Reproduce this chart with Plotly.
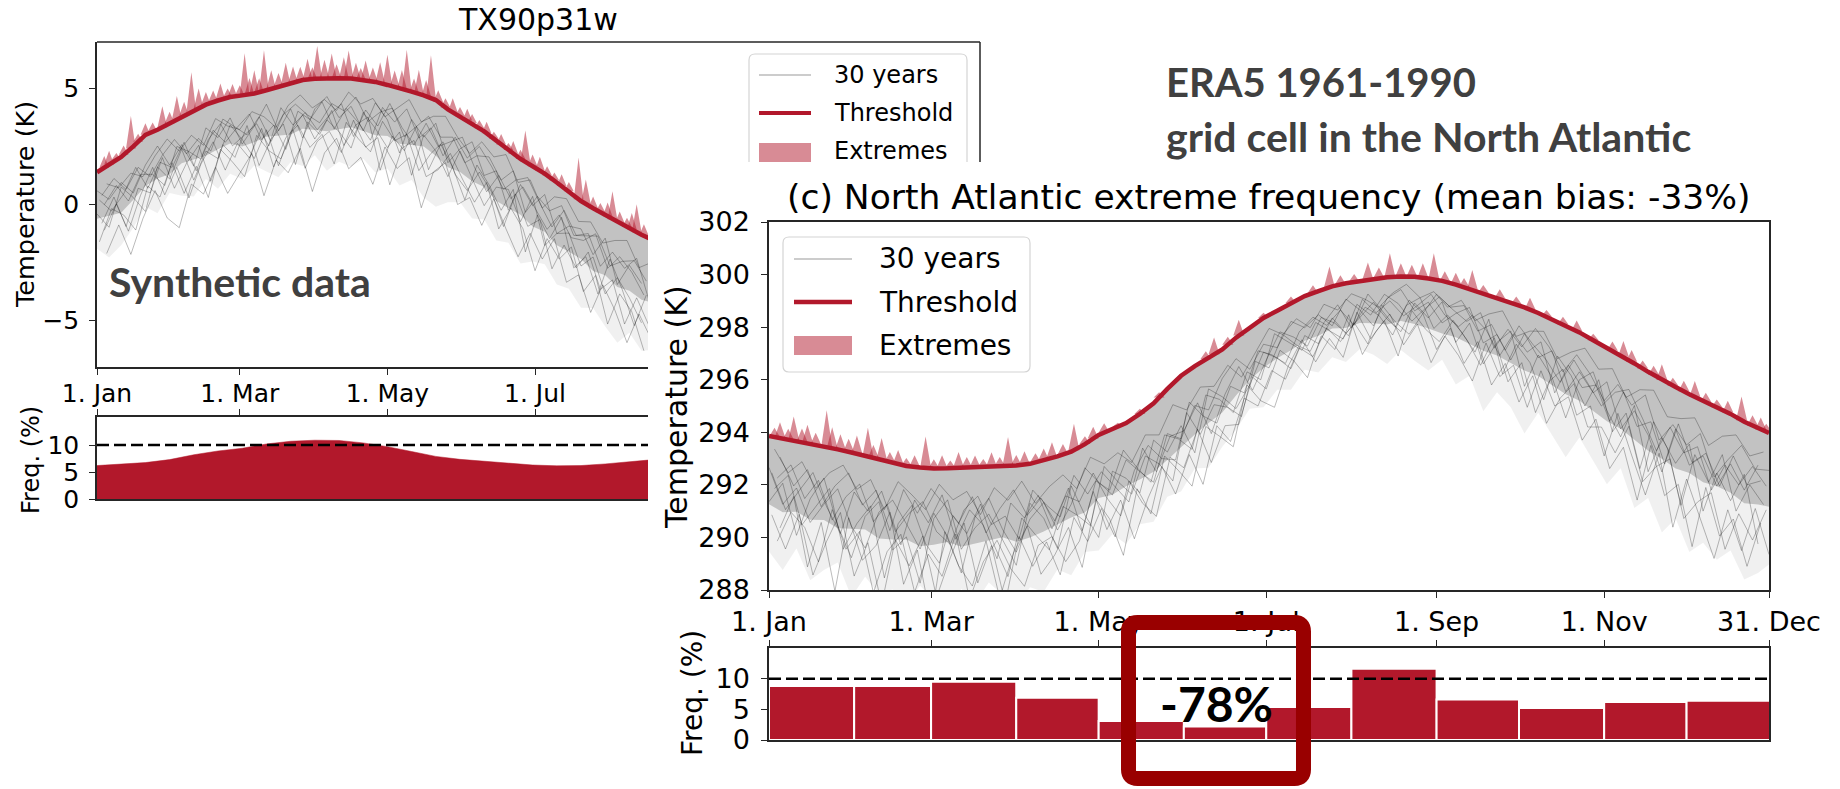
import plotly.graph_objects as go

W, H = 1840, 789


def px(x):
    return x / W


def py(y):
    return 1 - y / H


def P(x, y):
    return f"{x / W:.5f},{1 - y / H:.5f}"


# ---------------- shared calendar ----------------
month_ticks = [0, 59, 120, 181, 243, 304, 364]
month_labels = ["1. Jan", "1. Mar", "1. May", "1. Jul", "1. Sep", "1. Nov", "31. Dec"]
month_start = [0, 31, 59, 90, 120, 151, 181, 212, 243, 273, 304, 334]
month_len = [31, 28, 31, 30, 31, 30, 31, 31, 30, 31, 30, 31]
ref_freq = 10

# ---------------- synthetic data panel (TX90p31w) ----------------
l_days = list(range(0, 231, 5))
l_thr = [1.39, 1.72, 2.05, 2.50, 3.00, 3.22, 3.50, 3.78, 4.05, 4.30,
         4.48, 4.63, 4.70, 4.78, 4.92, 5.07, 5.22, 5.36, 5.42, 5.45,
         5.44, 5.43, 5.37, 5.28, 5.15, 5.02, 4.86, 4.70, 4.50, 4.10,
         3.80, 3.50, 3.15, 2.75, 2.35, 1.96, 1.65, 1.33, 0.95, 0.57,
         0.15, -0.16, -0.45, -0.75, -1.02, -1.30, -1.55]
# spread of the 30 years below the threshold (tenths of K): dense core and full range
l_core_low = [-20, -22, -24, -23, -22, -21, -22, -20, -21, -22,
              -21, -20, -22, -21, -20, -21, -22, -21, -22, -23,
              -22, -21, -22, -23, -22, -24, -23, -22, -24, -25,
              -24, -25, -24, -26, -25, -24, -26, -25, -27, -26,
              -25, -27, -26, -28, -27, -28, -27]
l_full_low = [-33, -40, -38, -35, -31, -36, -30, -34, -37, -32,
              -38, -33, -36, -31, -35, -39, -34, -37, -33, -40,
              -36, -38, -34, -39, -36, -42, -38, -44, -46, -40,
              -37, -41, -38, -43, -40, -45, -41, -39, -44, -42,
              -46, -43, -48, -52, -45, -50, -47]
# daily-value departures from the threshold (tenths of K), one list per year
l_year_offsets = [0, 2, 4, 1, 3, 0, 2, 4, 1, 3]
l_years = [
    [-8, -15, -11, -20, -13, -7, -18, -12, -24, -10, -16, -9, -21, -14, -6, -19, -11, -25, -13, -8,
     -17, -12, -22, -9, -15, -28, -12, -18, -10, -23, -14, -8, -19, -13, -26, -11, -17, -9, -22, -15,
     -12, -20, -10, -27, -16, -21],
    [-22, -14, -30, -18, -25, -12, -28, -20, -15, -33, -19, -26, -13, -31, -21, -16, -35, -18, -24, -14,
     -29, -20, -16, -38, -22, -27, -15, -32, -19, -25, -36, -18, -23, -30, -17, -40, -21, -28, -15, -33,
     -24, -37, -19, -29, -42, -26],
    [-5, -10, -7, -13, -9, -4, -12, -8, -15, -6, -11, -14, -7, -10, -16, -8, -5, -12, -9, -14,
     -6, -11, -8, -15, -10, -5, -13, -9, -7, -12, -16, -8, -11, -6, -14, -9, -18, -10, -7, -13,
     -9, -15, -11, -8, -17, -12],
    [-30, -19, -25, -36, -22, -29, -17, -33, -24, -40, -21, -28, -35, -18, -26, -31, -20, -38, -27, -23,
     -32, -18, -29, -24, -43, -26, -21, -35, -30, -19, -27, -34, -22, -38, -25, -30, -45, -28, -33, -24,
     -39, -29, -47, -31, -36, -50],
    [-14, -9, -19, -12, -17, -24, -10, -15, -21, -11, -18, -13, -8, -20, -15, -27, -12, -17, -10, -22,
     -13, -19, -26, -11, -16, -9, -20, -14, -24, -12, -18, -10, -15, -21, -13, -8, -16, -23, -12, -19,
     -14, -25, -16, -20, -13, -28],
    [-18, -27, -13, -22, -33, -16, -24, -14, -30, -20, -25, -12, -19, -28, -17, -34, -21, -15, -26, -18,
     -23, -30, -14, -20, -27, -19, -36, -17, -22, -29, -15, -24, -32, -20, -17, -27, -13, -31, -22, -18,
     -28, -21, -34, -24, -30, -38],
    [-10, -6, -14, -9, -18, -11, -7, -16, -12, -20, -8, -13, -17, -10, -22, -12, -9, -15, -19, -11,
     -14, -8, -18, -13, -10, -21, -15, -9, -16, -12, -20, -14, -11, -17, -9, -23, -13, -16, -10, -19,
     -15, -12, -22, -17, -14, -20],
    [-35, -26, -42, -31, -24, -38, -45, -29, -36, -27, -40, -33, -25, -44, -30, -37, -28, -48, -32, -26,
     -39, -34, -45, -28, -36, -30, -50, -33, -27, -41, -35, -44, -29, -38, -46, -32, -40, -28, -43, -36,
     -48, -33, -41, -52, -37, -45],
    [-12, -20, -16, -9, -23, -14, -19, -11, -26, -15, -10, -21, -17, -13, -24, -9, -18, -14, -22, -16,
     -11, -25, -13, -19, -8, -17, -23, -12, -20, -14, -9, -19, -26, -15, -21, -12, -18, -24, -14, -20,
     -17, -11, -23, -15, -19, -26],
    [-25, -17, -32, -21, -14, -28, -19, -35, -23, -16, -30, -20, -27, -15, -33, -22, -18, -29, -24, -37,
     -19, -26, -31, -17, -24, -20, -34, -25, -18, -28, -32, -21, -26, -37, -19, -29, -23, -41, -27, -33,
     -22, -35, -28, -44, -30, -39],
]
l_spk_day = [3, 5, 8, 11, 14, 17, 20, 23, 27, 30, 33, 36, 39, 42, 45, 48, 51, 54, 56, 59,
             61, 63, 65, 67, 69, 72, 75, 78, 81, 84, 87, 89, 91, 94, 97, 99, 102, 104, 107, 109,
             111, 114, 117, 120, 123, 126, 128, 131, 133, 136, 138, 141, 144, 147, 150, 153, 155, 158, 161, 164,
             167, 170, 172, 175, 177, 180, 183, 186, 189, 192, 195, 199, 202, 205, 208, 211, 213, 216, 219, 221,
             223, 226]
l_spk_base = [1.59, 1.72, 1.92, 2.14, 2.41, 2.70, 3.00, 3.13, 3.33, 3.50, 3.67, 3.83, 4.00, 4.15, 4.30, 4.41,
              4.51, 4.60, 4.64, 4.69, 4.72, 4.75, 4.78, 4.84, 4.89, 4.98, 5.07, 5.16, 5.25, 5.33, 5.38, 5.41,
              5.43, 5.44, 5.45, 5.44, 5.44, 5.43, 5.41, 5.38, 5.35, 5.30, 5.23, 5.15, 5.07, 4.99, 4.92, 4.83,
              4.76, 4.66, 4.58, 4.42, 4.18, 3.98, 3.80, 3.62, 3.50, 3.29, 3.07, 2.83, 2.59, 2.35, 2.19, 1.96,
              1.84, 1.65, 1.46, 1.25, 1.03, 0.80, 0.57, 0.23, 0.03, -0.16, -0.33, -0.51, -0.63, -0.80, -0.97,
              -1.07, -1.19, -1.35]
l_spk_exc = [0.5, 0.6, 0.3, 0.4, 1.4, 0.35, 0.5, 0.4, 0.9, 0.5, 1.0, 0.6, 1.7, 0.85, 0.55, 0.5, 0.7, 0.4,
             0.55, 0.45, 1.8, 0.7, 1.0, 0.6, 1.75, 0.8, 0.6, 0.95, 0.7, 0.6, 0.9, 0.5, 1.4, 0.8, 1.05, 0.6,
             0.9, 1.2, 0.7, 0.5, 0.85, 0.6, 0.9, 1.3, 0.7, 0.8, 1.75, 0.6, 1.05, 0.7, 1.85, 0.5, 0.4, 0.6,
             0.4, 0.5, 0.4, 0.35, 0.5, 0.3, 0.45, 0.3, 0.55, 0.4, 1.35, 0.5, 0.6, 0.4, 0.35, 0.5, 0.4, 1.8,
             1.05, 0.5, 0.4, 0.6, 1.2, 0.5, 0.4, 0.7, 1.2, 0.5]
l_freq_days = list(range(0, 231, 10))
l_freq = [6.2, 6.45, 6.75, 7.3, 8.2, 8.9, 9.4, 10.2, 10.7, 10.9, 10.85, 10.4,
          9.7, 8.8, 7.9, 7.35, 7.0, 6.65, 6.3, 6.15, 6.2, 6.5, 6.9, 7.3]

# ---------------- ERA5 North Atlantic panel ----------------
r_days = list(range(0, 361, 5)) + [364]
r_thr = [293.86, 293.76, 293.68, 293.57, 293.46, 293.35, 293.23, 293.10, 292.96, 292.82,
         292.72, 292.66, 292.62, 292.63, 292.65, 292.67, 292.69, 292.71, 292.74, 292.80,
         292.93, 293.08, 293.26, 293.55, 293.90, 294.12, 294.35, 294.70, 295.10, 295.65,
         296.15, 296.52, 296.85, 297.15, 297.60, 298.00, 298.35, 298.62, 298.92, 299.18,
         299.37, 299.55, 299.67, 299.76, 299.85, 299.90, 299.93, 299.92, 299.85, 299.76,
         299.62, 299.45, 299.30, 299.12, 298.95, 298.75, 298.54, 298.30, 298.05, 297.80,
         297.50, 297.22, 296.93, 296.62, 296.30, 295.99, 295.72, 295.45, 295.20, 294.95,
         294.70, 294.40, 294.15, 293.97]
r_core_low = [-26, -28, -27, -29, -28, -30, -29, -28, -30, -29,
              -28, -30, -29, -28, -30, -29, -28, -27, -29, -28,
              -27, -26, -25, -26, -24, -25, -24, -25, -26, -27,
              -27, -26, -25, -24, -22, -20, -19, -18, -18, -17,
              -17, -16, -17, -16, -17, -18, -17, -18, -19, -20,
              -20, -21, -22, -22, -23, -24, -24, -25, -26, -26,
              -27, -28, -28, -29, -30, -30, -31, -30, -31, -30,
              -30, -31, -29, -28]
r_full_low = [-44, -50, -41, -52, -47, -43, -55, -46, -51, -48,
              -53, -45, -50, -56, -46, -52, -44, -49, -54, -47,
              -50, -43, -47, -41, -44, -40, -46, -42, -45, -41,
              -44, -39, -42, -37, -35, -31, -34, -30, -33, -28,
              -31, -27, -30, -26, -29, -33, -28, -32, -35, -30,
              -38, -33, -45, -36, -40, -48, -38, -44, -50, -40,
              -46, -52, -43, -55, -48, -58, -50, -60, -54, -58,
              -52, -60, -55, -50]
r_year_offsets = [0, 2, 4, 1, 3, 0, 2, 4, 1, 3]
r_years = [
    [-12, -25, -18, -30, -22, -15, -28, -35, -20, -14, -22, -31, -17, -26, -40, -19, -12, -24, -33, -21,
     -16, -28, -20, -9, -18, -25, -14, -22, -30, -17, -24, -15, -20, -11, -8, -16, -10, -14, -7, -12,
     -9, -15, -6, -11, -18, -8, -5, -13, -9, -16, -11, -7, -19, -14, -22, -10, -17, -12, -25, -15,
     -20, -13, -28, -18, -24, -35, -16, -27, -21, -30, -19, -26, -14],
    [-20, -14, -32, -24, -16, -38, -27, -19, -45, -23, -15, -29, -36, -18, -25, -14, -30, -42, -20, -27,
     -34, -19, -24, -31, -12, -20, -27, -16, -23, -35, -14, -26, -18, -22, -30, -13, -19, -9, -16, -21,
     -12, -7, -17, -10, -14, -22, -11, -8, -19, -13, -18, -24, -10, -29, -16, -21, -33, -14, -19, -28,
     -15, -32, -22, -40, -19, -26, -45, -23, -31, -18, -37, -24, -29],
    [-8, -18, -11, -24, -15, -9, -20, -13, -27, -10, -18, -8, -14, -21, -11, -25, -16, -9, -19, -13,
     -23, -12, -30, -14, -21, -8, -17, -26, -12, -19, -28, -11, -16, -24, -13, -20, -6, -12, -18, -10,
     -15, -20, -8, -13, -6, -10, -17, -12, -7, -11, -14, -9, -21, -12, -17, -8, -13, -20, -11, -16,
     -23, -14, -19, -12, -26, -17, -22, -15, -29, -20, -12, -18, -16],
    [-30, -42, -28, -50, -36, -24, -47, -33, -55, -29, -38, -26, -49, -34, -21, -44, -30, -52, -27, -39,
     -31, -45, -25, -37, -28, -41, -22, -34, -43, -26, -35, -24, -40, -29, -33, -19, -27, -15, -22, -31,
     -17, -24, -12, -28, -20, -14, -26, -18, -32, -21, -27, -35, -19, -30, -24, -38, -22, -33, -27, -41,
     -30, -46, -35, -52, -28, -44, -37, -58, -33, -49, -40, -55, -36],
    [-16, -10, -22, -14, -28, -18, -12, -25, -17, -31, -13, -21, -10, -27, -16, -22, -35, -14, -20, -12,
     -26, -15, -19, -11, -24, -33, -18, -12, -21, -27, -10, -19, -25, -14, -21, -9, -14, -20, -11, -8,
     -13, -9, -16, -5, -12, -19, -9, -14, -6, -10, -8, -16, -12, -20, -9, -14, -18, -24, -13, -19,
     -25, -17, -13, -21, -30, -18, -25, -20, -34, -22, -27, -17, -22],
    [-25, -17, -36, -21, -12, -29, -40, -23, -16, -33, -27, -44, -19, -12, -31, -23, -18, -28, -38, -15,
     -22, -35, -13, -27, -39, -16, -21, -30, -14, -24, -19, -33, -12, -18, -27, -22, -13, -18, -25, -15,
     -20, -12, -19, -14, -9, -16, -21, -10, -15, -8, -22, -13, -27, -17, -11, -30, -16, -22, -35, -18,
     -12, -24, -31, -16, -38, -22, -29, -19, -42, -25, -33, -20, -44],
    [-5, -13, -8, -17, -10, -6, -14, -9, -19, -7, -11, -16, -6, -12, -9, -18, -8, -13, -6, -15,
     -10, -7, -14, -5, -11, -9, -15, -8, -12, -6, -13, -8, -11, -6, -15, -10, -4, -9, -6, -12,
     -5, -9, -4, -7, -11, -6, -3, -8, -5, -10, -6, -12, -8, -5, -13, -9, -7, -15, -10, -6,
     -11, -8, -16, -10, -7, -14, -12, -9, -17, -11, -8, -13, -9],
    [-35, -22, -48, -30, -55, -26, -41, -34, -20, -46, -32, -58, -24, -37, -45, -28, -50, -33, -23, -42,
     -36, -27, -44, -21, -32, -48, -25, -38, -20, -31, -42, -23, -30, -37, -18, -28, -34, -21, -14, -25,
     -18, -27, -11, -22, -16, -30, -13, -20, -24, -15, -21, -29, -17, -32, -23, -40, -26, -19, -34, -28,
     -44, -25, -38, -50, -31, -56, -35, -47, -60, -39, -52, -33, -48],
    [-14, -27, -19, -11, -23, -32, -15, -21, -12, -26, -18, -13, -24, -29, -16, -11, -22, -19, -28, -10,
     -17, -23, -9, -19, -14, -22, -30, -13, -26, -18, -21, -14, -29, -17, -11, -24, -16, -8, -13, -19,
     -10, -14, -20, -7, -13, -9, -15, -11, -6, -13, -16, -10, -14, -22, -12, -17, -11, -28, -15, -21,
     -17, -28, -14, -24, -19, -32, -14, -26, -20, -30, -16, -24, -20],
    [-40, -28, -33, -45, -24, -38, -30, -52, -35, -27, -48, -33, -41, -25, -50, -36, -28, -39, -46, -31,
     -29, -40, -34, -18, -36, -27, -44, -32, -24, -40, -30, -45, -26, -35, -23, -30, -20, -26, -17, -23,
     -14, -21, -15, -24, -10, -17, -22, -14, -27, -18, -30, -20, -35, -25, -38, -26, -42, -30, -22, -36,
     -33, -40, -27, -45, -36, -30, -50, -41, -35, -54, -38, -45, -31],
]
r_spk_day = [2, 4, 7, 9, 12, 14, 17, 21, 23, 26, 29, 32, 36, 38, 41, 44, 47, 50, 53, 57,
             60, 63, 66, 69, 72, 75, 78, 81, 84, 87, 90, 93, 97, 100, 103, 107, 111, 115, 118, 122,
             127, 135, 142, 159, 162, 167, 171, 180, 190, 198, 204, 208, 213, 218, 222, 226, 230, 234, 238, 242,
             246, 250, 253, 256, 260, 266, 272, 277, 283, 289, 294, 300, 307, 311, 314, 318, 322, 325, 329, 333,
             337, 341, 345, 349, 354, 358, 361, 363]
r_spk_base = [293.82, 293.78, 293.73, 293.70, 293.64, 293.59, 293.53, 293.44, 293.39, 293.33,
              293.25, 293.18, 293.07, 293.02, 292.93, 292.85, 292.78, 292.72, 292.68, 292.64,
              292.62, 292.63, 292.63, 292.65, 292.66, 292.67, 292.68, 292.69, 292.71, 292.72,
              292.74, 292.78, 292.85, 292.93, 293.02, 293.15, 293.32, 293.55, 293.76, 293.99,
              294.21, 294.70, 295.32, 296.78, 296.97, 297.33, 297.68, 298.35, 298.92, 299.29,
              299.51, 299.62, 299.72, 299.81, 299.87, 299.91, 299.93, 299.92, 299.88, 299.81,
              299.73, 299.62, 299.52, 299.42, 299.30, 299.09, 298.87, 298.67, 298.40, 298.10,
              297.85, 297.50, 297.10, 296.87, 296.68, 296.43, 296.18, 295.99, 295.77, 295.56,
              295.35, 295.15, 294.95, 294.75, 294.46, 294.25, 294.11, 294.02]
r_spk_exc = [0.35, 0.6, 0.4, 0.9, 0.5, 0.7, 0.45, 1.4, 0.8, 0.6, 0.5, 0.7, 1.1, 0.5, 0.85, 0.4, 0.55, 0.3,
             0.45, 1.2, 0.35, 0.5, 0.3, 0.6, 0.4, 0.45, 0.3, 0.55, 0.35, 1.1, 0.4, 0.5, 0.35, 0.45, 0.6, 0.4,
             1.0, 0.3, 0.45, 0.35, 0.15, 0.2, 0.2, 0.3, 0.64, 0.3, 0.6, 0.2, 0.25, 0.3, 0.8, 0.35, 0.3, 0.65,
             0.4, 0.9, 0.5, 0.45, 0.55, 1.0, 0.4, 0.45, 0.35, 0.75, 0.3, 0.35, 0.3, 0.45, 0.25, 0.3, 0.4, 0.25,
             0.35, 0.6, 0.45, 0.3, 0.35, 0.6, 0.3, 0.4, 0.6, 0.35, 0.3, 0.45, 0.9, 0.4, 0.45, 0.3]
r_freq = [8.8, 8.8, 9.5, 6.9, 3.1, 2.2, 5.4, 11.6, 6.6, 5.2, 6.2, 6.4]

# ---------------- styling ----------------
RED = "#b2182b"
EXT_FILL = "rgba(178,24,43,0.5)"
GRAY = "rgba(0,0,0,0.34)"
SPINE = "#262626"
FONT = "DejaVu Sans"

fig = go.Figure()


def add_spread(days, thr, core, full, xa, ya):
    n = len(core)
    core_y = [t + c / 10 for t, c in zip(thr, core)]
    full_y = [t + f / 10 for t, f in zip(thr, full)]
    kw = dict(mode="lines", line=dict(width=0), xaxis=xa, yaxis=ya, hoverinfo="skip", showlegend=False)
    fig.add_trace(go.Scatter(x=days[:n], y=core_y, **kw))
    fig.add_trace(go.Scatter(x=days[:n], y=full_y, fill="tonexty", fillcolor="rgba(0,0,0,0.06)", **kw))
    fig.add_trace(go.Scatter(x=days[:n], y=thr[:n], **kw))
    fig.add_trace(go.Scatter(x=days[:n], y=core_y, fill="tonexty", fillcolor="rgba(0,0,0,0.24)", **kw))


def add_years(days, thr, offsets, years, xa, ya):
    for off, an in zip(offsets, years):
        xs = [d + off for d in days[:len(an)]]
        ys = [t + a / 10 for t, a in zip(thr, an)]
        fig.add_trace(go.Scatter(x=xs, y=ys, mode="lines", xaxis=xa, yaxis=ya,
                                 line=dict(color=GRAY, width=0.8),
                                 hoverinfo="skip", showlegend=False))


def add_spikes(days, base, exc, hw, xa, ya):
    for part in (0, 1):
        xs, ys = [], []
        for i, (d, b, e) in enumerate(zip(days, base, exc)):
            if i % 2 != part:
                continue
            xs += [d - hw, d, d + hw, None]
            ys += [b, b + e, b, None]
        fig.add_trace(go.Scatter(x=xs, y=ys, mode="lines", fill="toself", fillcolor=EXT_FILL,
                                 line=dict(width=0), xaxis=xa, yaxis=ya,
                                 hoverinfo="skip", showlegend=False))


# synthetic panel
add_spread(l_days, l_thr, l_core_low, l_full_low, "x", "y")
add_years(l_days, l_thr, l_year_offsets, l_years, "x", "y")
add_spikes(l_spk_day, l_spk_base, l_spk_exc, 2.0, "x", "y")
fig.add_trace(go.Scatter(x=l_days, y=l_thr, mode="lines", line=dict(color=RED, width=4.5),
                         xaxis="x", yaxis="y", showlegend=False))
fig.add_trace(go.Scatter(x=l_freq_days, y=l_freq, mode="lines", fill="tozeroy", fillcolor=RED,
                         line=dict(color=RED, width=0.5), xaxis="x2", yaxis="y2", showlegend=False))
fig.add_trace(go.Scatter(x=[0, 230], y=[ref_freq, ref_freq], mode="lines",
                         line=dict(color="black", width=2.5, dash="12px,5px"),
                         xaxis="x2", yaxis="y2", showlegend=False))

# ERA5 panel
add_spread(r_days, r_thr, r_core_low, r_full_low, "x3", "y3")
add_years(r_days, r_thr, r_year_offsets, r_years, "x3", "y3")
add_spikes(r_spk_day, r_spk_base, r_spk_exc, 2.0, "x3", "y3")
fig.add_trace(go.Scatter(x=r_days, y=r_thr, mode="lines", line=dict(color=RED, width=4.5),
                         xaxis="x3", yaxis="y3", showlegend=False))
fig.add_trace(go.Bar(x=[s + n / 2 for s, n in zip(month_start, month_len)], y=r_freq, width=month_len,
                     marker=dict(color=RED, line=dict(color="white", width=2)),
                     xaxis="x4", yaxis="y4", showlegend=False))
fig.add_trace(go.Scatter(x=[0, 364], y=[ref_freq, ref_freq], mode="lines",
                         line=dict(color="black", width=2.5, dash="12px,5px"),
                         xaxis="x4", yaxis="y4", showlegend=False))

ax = dict(showgrid=False, zeroline=False, ticks="outside", ticklen=6, tickwidth=1.3,
          tickcolor=SPINE, showline=True, linecolor=SPINE, linewidth=1.5, automargin=False,
          tickfont=dict(family=FONT, color="black"))

l_xrange = [0, (648 - 97) / 2.42]
fig.update_layout(
    width=W, height=H, margin=dict(l=0, r=0, t=0, b=0, autoexpand=False), autosize=False,
    paper_bgcolor="white", plot_bgcolor="white", showlegend=False,
    xaxis=dict(ax, domain=[px(97), px(648)], range=l_xrange, anchor="y",
               tickvals=month_ticks, ticktext=month_labels, tickfont_size=25, ticklabelstandoff=-3),
    yaxis=dict(ax, domain=[py(367), py(42)], range=[-7, 7], anchor="x",
               tickvals=[-5, 0, 5], ticktext=["\u22125", "0", "5"], tickfont_size=25, ticklabelstandoff=5),
    xaxis2=dict(ax, domain=[px(97), px(648)], range=l_xrange, anchor="y2", side="top", mirror=True,
                tickvals=month_ticks, showticklabels=False),
    yaxis2=dict(ax, domain=[py(499), py(417)], range=[0, 15.2], anchor="x2",
                tickvals=[0, 5, 10], tickfont_size=25, ticklabelstandoff=5),
    xaxis3=dict(ax, domain=[px(769), px(1769)], range=[0, 364], anchor="y3", mirror=True,
                tickvals=month_ticks, ticktext=month_labels, tickfont_size=27, ticklabelstandoff=1),
    yaxis3=dict(ax, domain=[py(590), py(222)], range=[288, 302], anchor="x3", mirror=True,
                tickvals=list(range(288, 303, 2)), tickfont_size=27, ticklabelstandoff=6),
    xaxis4=dict(ax, domain=[px(769), px(1769)], range=[0, 364], anchor="y4", side="top", mirror=True,
                tickvals=month_ticks, showticklabels=False),
    yaxis4=dict(ax, domain=[py(740), py(648)], range=[0, 15], anchor="x4", mirror=True,
                tickvals=[0, 5, 10], tickfont_size=27, ticklabelstandoff=6),
)


def rounded(x0, y0, x1, y1, r):
    return (f"M {P(x0 + r, y0)} L {P(x1 - r, y0)} Q {P(x1, y0)} {P(x1, y0 + r)} "
            f"L {P(x1, y1 - r)} Q {P(x1, y1)} {P(x1 - r, y1)} L {P(x0 + r, y1)} "
            f"Q {P(x0, y1)} {P(x0, y1 - r)} L {P(x0, y0 + r)} Q {P(x0, y0)} {P(x0 + r, y0)} Z")


shapes = []
# frame of the synthetic panel beyond its visible data area
shapes.append(dict(type="line", xref="paper", yref="paper", x0=px(97), x1=px(980), y0=py(42), y1=py(42),
                   line=dict(color=SPINE, width=1.5), layer="above"))
shapes.append(dict(type="line", xref="paper", yref="paper", x0=px(980), x1=px(980), y0=py(42), y1=py(162),
                   line=dict(color=SPINE, width=1.5), layer="above"))

# legend of the synthetic panel (lower edge hidden beneath the ERA5 panel)
shapes.append(dict(type="path", xref="paper", yref="paper", layer="above",
                   path=(f"M {P(749, 162)} L {P(749, 60)} Q {P(749, 54)} {P(755, 54)} L {P(961, 54)} "
                         f"Q {P(967, 54)} {P(967, 60)} L {P(967, 162)}"),
                   line=dict(color="#d4d4d4", width=1.2)))
shapes.append(dict(type="line", xref="paper", yref="paper", x0=px(759), x1=px(811), y0=py(75), y1=py(75),
                   line=dict(color="#9a9a9a", width=1.2), layer="above"))
shapes.append(dict(type="line", xref="paper", yref="paper", x0=px(759), x1=px(811), y0=py(113), y1=py(113),
                   line=dict(color=RED, width=4), layer="above"))
shapes.append(dict(type="rect", xref="paper", yref="paper", x0=px(759), x1=px(811), y0=py(162), y1=py(143),
                   fillcolor="rgb(216,139,149)", line=dict(width=0), layer="above"))

# legend of the ERA5 panel
shapes.append(dict(type="path", xref="paper", yref="paper", layer="above", path=rounded(783, 237, 1030, 372, 6),
                   fillcolor="white", line=dict(color="#d4d4d4", width=1.2)))
shapes.append(dict(type="line", xref="paper", yref="paper", x0=px(794), x1=px(852), y0=py(259), y1=py(259),
                   line=dict(color="#9a9a9a", width=1.2), layer="above"))
shapes.append(dict(type="line", xref="paper", yref="paper", x0=px(794), x1=px(852), y0=py(302), y1=py(302),
                   line=dict(color=RED, width=4.5), layer="above"))
shapes.append(dict(type="rect", xref="paper", yref="paper", x0=px(794), x1=px(852), y0=py(355), y1=py(336),
                   fillcolor="rgb(216,139,149)", line=dict(width=0), layer="above"))

# highlight around the June bar
shapes.append(dict(type="path", xref="paper", yref="paper", layer="above", path=rounded(1128.5, 622.5, 1303.5, 778.5, 9),
                   line=dict(color="#990000", width=15)))
fig.update_layout(shapes=shapes)


def txt(x, y, s, size, family=FONT, color="black", xanchor="left", angle=0):
    return dict(x=px(x), y=py(y), xref="paper", yref="paper", text=s, showarrow=False,
                xanchor=xanchor, yanchor="middle", textangle=angle,
                font=dict(family=family, size=size, color=color))


ann = [
    txt(538, 20, "TX90p31w", 30, xanchor="center"),
    txt(1269, 197, "(c) North Atlantic extreme frequency (mean bias: -33%)", 34.5, xanchor="center"),
    txt(25, 205, "Temperature (K)", 25.5, xanchor="center", angle=-90),
    txt(31, 460, "Freq. (%)", 24, xanchor="center", angle=-90),
    txt(676, 407, "Temperature (K)", 30, xanchor="center", angle=-90),
    txt(692, 693, "Freq. (%)", 28, xanchor="center", angle=-90),
    txt(832, 75, "30 years", 24),
    txt(832, 113, "Threshold", 24),
    txt(832, 151, "Extremes", 24),
    txt(877, 259, "30 years", 28),
    txt(877, 302, "Threshold", 28),
    txt(877, 345, "Extremes", 28),
    txt(107, 281, "<b>Synthetic data</b>", 41, family="Lato", color="#404040"),
    txt(1164, 82, "<b>ERA5 1961-1990</b>", 40, family="Lato", color="#404040"),
    txt(1164, 136, "<b>grid cell in the North Atlantic</b>", 41, family="Lato", color="#404040"),
    txt(1216, 703, "<b>-78%</b>", 48, family="Lato", xanchor="center"),
]
fig.update_layout(annotations=ann)

fig.write_html("out.html")
